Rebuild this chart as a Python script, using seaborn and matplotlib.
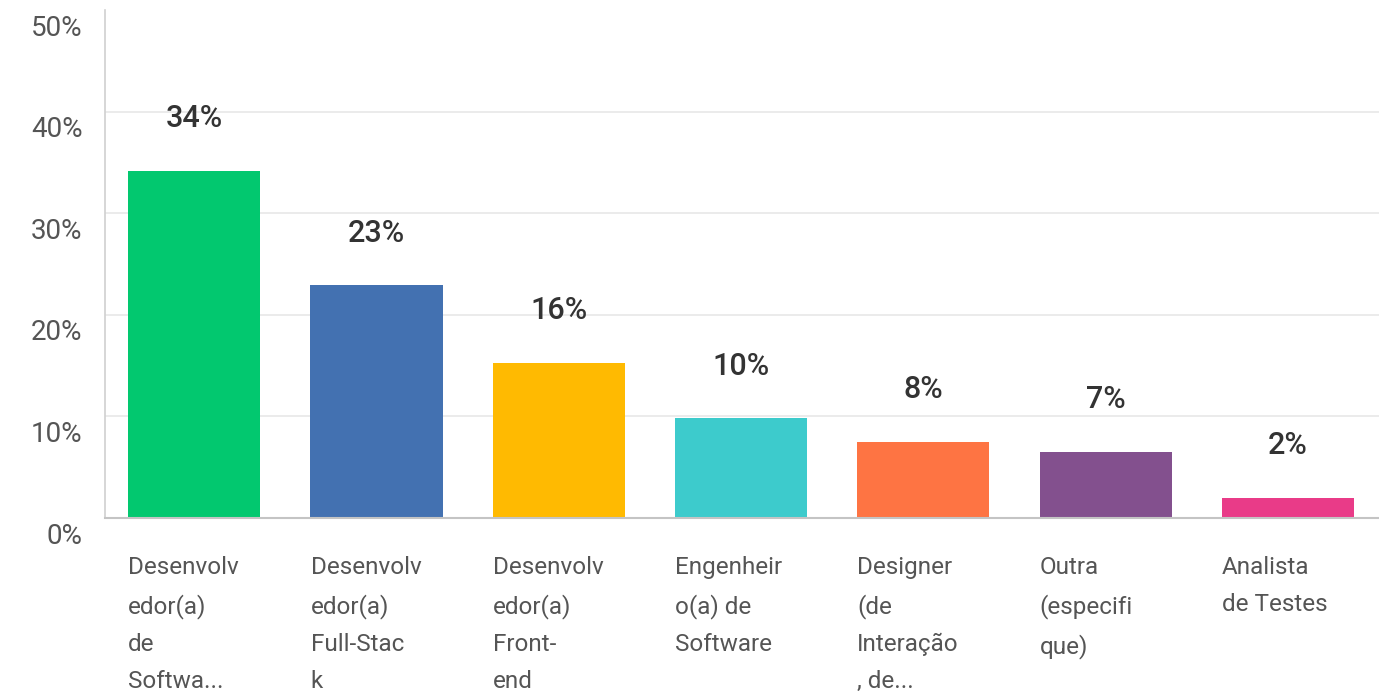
import matplotlib
matplotlib.use("Agg")
import matplotlib.pyplot as plt
import matplotlib.transforms as mtransforms
import seaborn as sns
import pandas as pd

categories = [
    "Desenvolv\nedor(a)\nde\nSoftwa...",
    "Desenvolv\nedor(a)\nFull-Stac\nk",
    "Desenvolv\nedor(a)\nFront-\nend",
    "Engenheir\no(a) de\nSoftware",
    "Designer\n(de\nInteração\n, de...",
    "Outra\n(especifi\nque)",
    "Analista\nde Testes",
]
values = [34.2, 22.9, 15.3, 9.8, 7.5, 6.5, 2.0]
value_labels = ["34%", "23%", "16%", "10%", "8%", "7%", "2%"]
y_ticks = [0, 10, 20, 30, 40, 50]
y_tick_labels = ["0%", "10%", "20%", "30%", "40%", "50%"]
colors = ["#02C86F", "#4371B1", "#FFBA01", "#3DCBCC", "#FE7443", "#83508E", "#E93B88"]

sns.set_theme(style="white")
plt.rcParams["font.family"] = ["Roboto", "DejaVu Sans"]

df = pd.DataFrame({"cat": categories, "val": values})

fig = plt.figure(figsize=(13.79, 6.97), dpi=100)
ax = fig.add_axes([0.0761, 0.2568, 0.9239, 0.7288])

sns.barplot(data=df, x="cat", y="val", hue="cat", palette=colors,
            legend=False, width=0.725, ax=ax, saturation=1, linewidth=0)

ax.set_xlim(-0.49, 6.5)
ax.set_ylim(0, 50)
ax.set_yticks(y_ticks)
ax.set_yticklabels(y_tick_labels)
ax.set_xlabel("")
ax.set_ylabel("")

ax.grid(axis="y", color="#e8e8e8", linewidth=1.2)
ax.set_axisbelow(True)
ax.yaxis.get_gridlines()[-1].set_visible(False)
for s in ["top", "right"]:
    ax.spines[s].set_visible(False)
ax.spines["left"].set_color("#d0d0d0")
ax.spines["left"].set_linewidth(1.2)
ax.spines["bottom"].set_color("#c4c4c4")
ax.spines["bottom"].set_linewidth(1.5)

ax.tick_params(axis="y", length=0, pad=16, labelsize=20, labelcolor="#555555")
ax.tick_params(axis="x", length=0, pad=27, labelsize=17.5, labelcolor="#555555")

yoff = mtransforms.ScaledTranslation(0, -15 / 100, fig.dpi_scale_trans)
for lab in ax.get_yticklabels():
    lab.set_transform(lab.get_transform() + yoff)

xoff = mtransforms.ScaledTranslation(-66 / 100, 0, fig.dpi_scale_trans)
for lab in ax.get_xticklabels():
    lab.set_horizontalalignment("left")
    lab.set_verticalalignment("top")
    lab.set_linespacing(1.78)
    lab.set_transform(lab.get_transform() + xoff)

for bar, lab in zip(ax.patches, value_labels):
    ax.annotate(lab, (bar.get_x() + bar.get_width() / 2, bar.get_height()),
                xytext=(0, 37.5), textcoords="offset points",
                ha="center", va="center", fontsize=22, fontweight="medium",
                color="#333333")

fig.savefig("out.png", dpi=100)
